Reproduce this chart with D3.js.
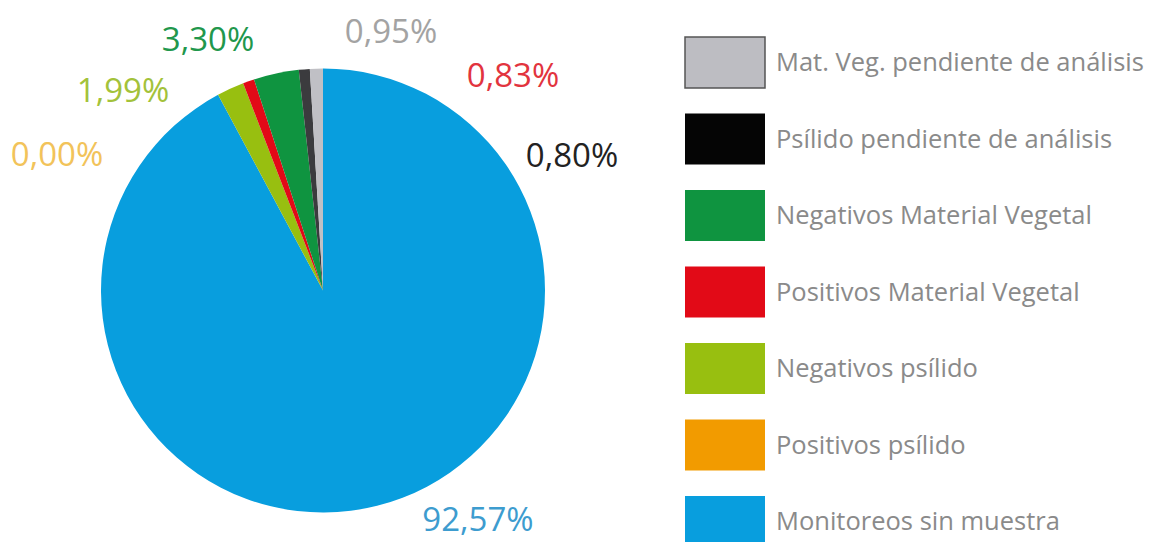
<!DOCTYPE html>
<html>
<head>
<meta charset="utf-8">
<script src="https://cdn.jsdelivr.net/npm/d3@7"></script>
<style>
  body { margin: 0; background: #fff; }
  svg { display: block; font-family: "Open Sans", sans-serif; }
</style>
</head>
<body>
<svg id="chart" width="1154" height="542"></svg>
<script>
// slices in drawing order, clockwise from 12 o'clock
const categories = [
    "Monitoreos sin muestra",
    "Positivos psílido",
    "Negativos psílido",
    "Positivos Material Vegetal",
    "Negativos Material Vegetal",
    "Psílido pendiente de análisis",
    "Mat. Veg. pendiente de análisis"
];
const values = [92.57, 0.00, 1.99, 0.83, 3.30, 0.80, 0.95];

const sliceColors = ["#089ede", "#f29b00", "#98bf10", "#e20a17", "#0f9440", "#3b3b3e", "#c0c0c5"];
const legendColors = ["#089ede", "#f29b00", "#98bf10", "#e20a17", "#0f9440", "#050505", "#bdbdc2"];
const labelColors = ["#3d9ccf", "#f2c35a", "#a3c23a", "#e2343e", "#21974c", "#222222", "#a3a3a3"];

// label offsets from pie center (hand placed in the original)
const labelOffsets = [[155, 229], [-266, -136], [-200, -200], [190, -215], [-115, -251], [249, -135], [68, -259]];

let svg = d3.select("#chart");
let cx = 323, cy = 290.5, radius = 222;

let fmt = d3.formatLocale({decimal: ",", thousands: "."}).format(".2f");

let pie = d3.pie().sort(null).value(function(d) { return d; });
let arc = d3.arc().innerRadius(0).outerRadius(radius);

let g = svg.append("g").attr("transform", "translate(" + cx + "," + cy + ")");

g.selectAll("path")
    .data(pie(values))
    .enter().append("path")
    .attr("d", arc)
    .attr("fill", function(d, i) { return sliceColors[i]; });

g.selectAll("text.pct")
    .data(values)
    .enter().append("text")
    .attr("class", "pct")
    .attr("x", function(d, i) { return labelOffsets[i][0]; })
    .attr("y", function(d, i) { return labelOffsets[i][1]; })
    .attr("text-anchor", "middle")
    .attr("dy", "0.36em")
    .style("font-size", "33px")
    .style("fill", function(d, i) { return labelColors[i]; })
    .text(function(d) { return fmt(d) + "%"; });

// legend, top to bottom is the reverse of the slice order
let legendOrder = d3.range(categories.length).reverse();
let y = d3.scaleBand()
    .domain(legendOrder)
    .range([37, 37 + 76.5 * (categories.length - 1 / 3)])
    .paddingInner(1 / 3)
    .paddingOuter(0);

let legend = svg.append("g").attr("class", "legend");
let rows = legend.selectAll("g")
    .data(legendOrder)
    .enter().append("g")
    .attr("transform", function(i) { return "translate(685," + y(i) + ")"; });

rows.append("rect")
    .attr("width", 80)
    .attr("height", y.bandwidth())
    .attr("fill", function(i) { return legendColors[i]; })
    .attr("stroke", function(i) { return i === categories.length - 1 ? "#555" : "none"; })
    .attr("stroke-width", 1.5);

rows.append("text")
    .attr("x", 91)
    .attr("y", y.bandwidth() / 2 + 8.5)
    .style("font-size", "25.5px")
    .style("fill", "#8a8a8a")
    .text(function(i) { return categories[i]; });
</script>
</body>
</html>
